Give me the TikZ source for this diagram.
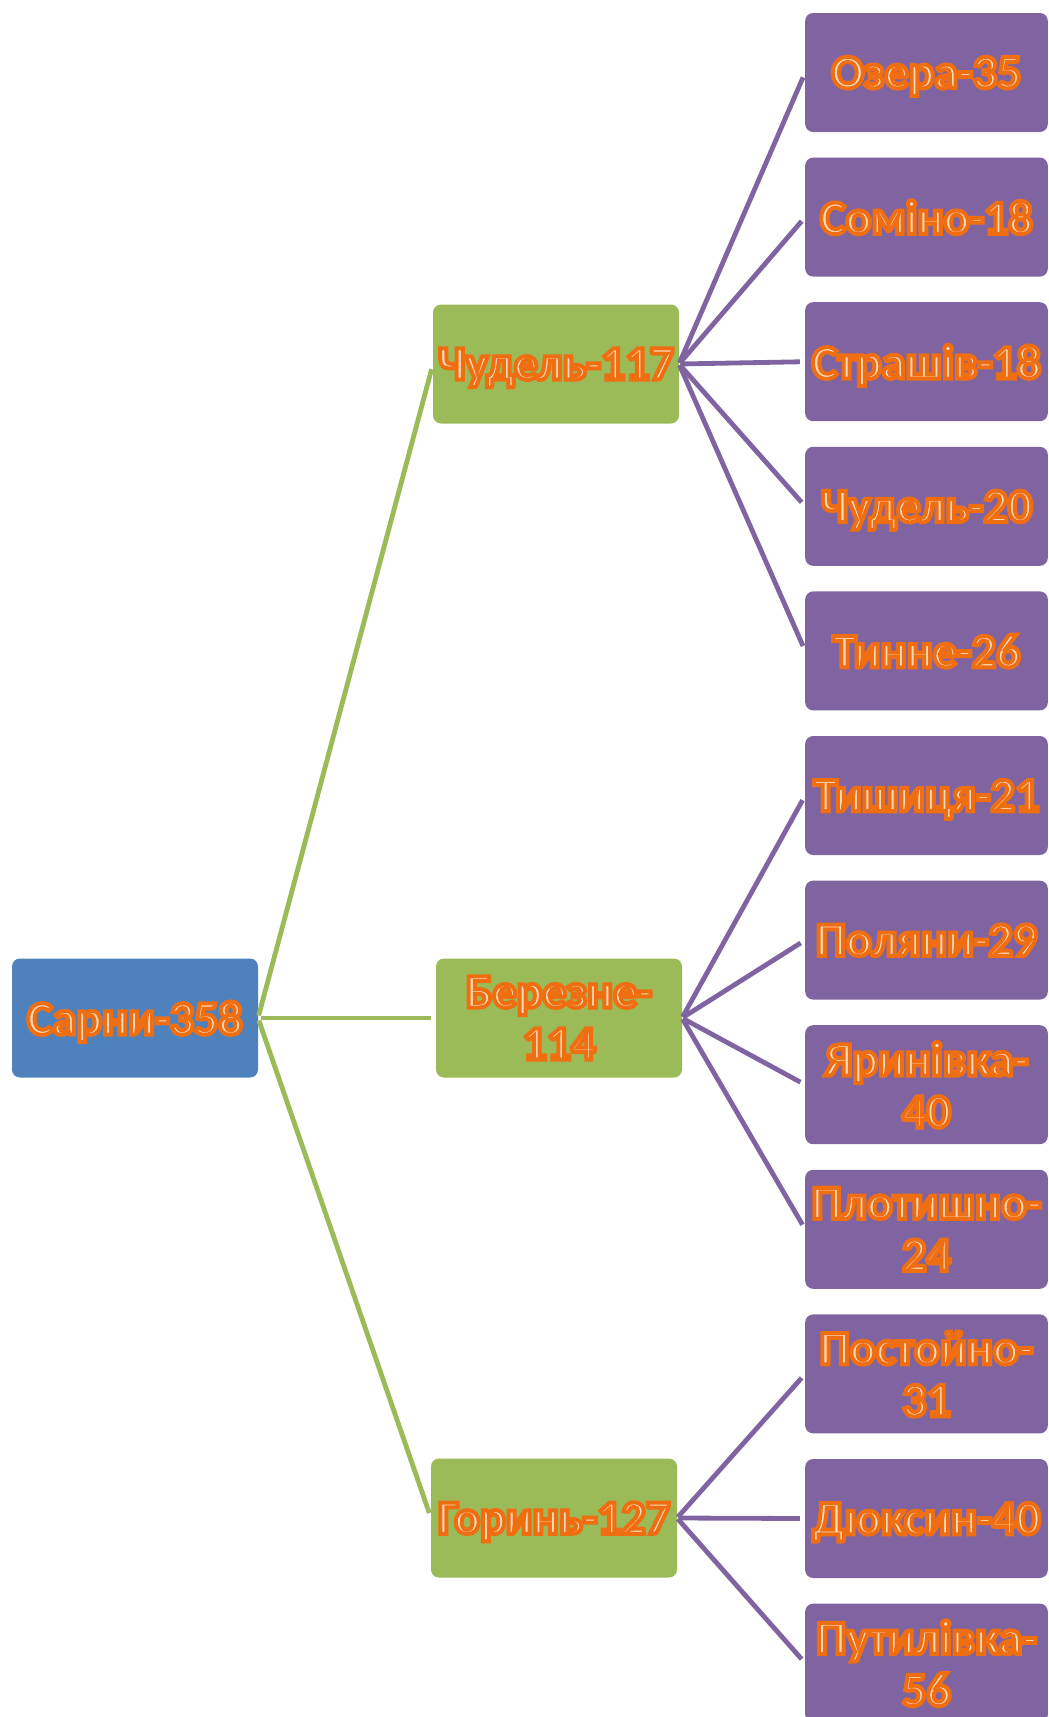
\documentclass[tikz,border=0pt]{standalone}
\usepackage{fontspec}
\setmainfont{Carlito}
\usetikzlibrary{positioning}

\definecolor{rootblue}{HTML}{4F81BD}
\definecolor{midgreen}{HTML}{9BBB59}
\definecolor{leafpurple}{HTML}{8064A2}

% orange outlined letters with a pale fill
\newcommand{\glowtext}[1]{\special{pdf:literal direct 2 Tr 3 w 0.94 0.43 0.07 RG 0.99 0.86 0.74 rg}#1\special{pdf:literal direct 0 Tr}}

\begin{document}
\begin{tikzpicture}[
			x=0.75pt, y=-0.75pt,
			node distance=19.2pt,
			box/.style={rectangle, rounded corners=6pt, minimum width=184.5pt, minimum height=89.25pt, align=center, inner sep=0pt, outer sep=0pt, text depth=0pt, font=\fontsize{36}{39}\selectfont\bfseries},
			rootbox/.style={box, fill=rootblue},
			midbox/.style={box, fill=midgreen},
			leafbox/.style={box, fill=leafpurple, minimum width=182pt},
			link/.style={line width=3.6pt, midgreen, shorten <=2pt, shorten >=4pt},
			leaflink/.style={line width=3.6pt, leafpurple, shorten <=1pt, shorten >=4pt}
			]
			\useasboundingbox (0,0) rectangle (1049,1717);
			
			% Root and middle level
			\node[rootbox] (sarny) at (135,1018) {\glowtext{Сарни-358}};
			\node[midbox] (chudel) at (556,364) {\glowtext{Чудель-117}};
			\node[midbox] (berezne) at (559,1018) {\glowtext{Березне-\\114}};
			\node[midbox] (horyn) at (554,1518) {\glowtext{Горинь-127}};
			
			% Leaves
			\node[leafbox] (ozera) at (926.5,72.5) {\glowtext{Озера-35}};
			\node[leafbox, below=of ozera] (somino) {\glowtext{Соміно-18}};
			\node[leafbox, below=of somino] (strashiv) {\glowtext{Страшів-18}};
			\node[leafbox, below=of strashiv] (chudelv) {\glowtext{Чудель-20}};
			\node[leafbox, below=of chudelv] (tynne) {\glowtext{Тинне-26}};
			\node[leafbox, below=of tynne] (tyshytsia) {\glowtext{Тишиця-21}};
			\node[leafbox, below=of tyshytsia] (poliany) {\glowtext{Поляни-29}};
			\node[leafbox, below=of poliany] (yarynivka) {\glowtext{Яринівка-\\40}};
			\node[leafbox, below=of yarynivka] (plotyshno) {\glowtext{Плотишно-\\24}};
			\node[leafbox, below=of plotyshno] (postoino) {\glowtext{Постойно-\\31}};
			\node[leafbox, below=of postoino] (diuksyn) {\glowtext{Дюксин-40}};
			\node[leafbox, below=of diuksyn] (putylivka) {\glowtext{Путилівка-\\56}};
			
			% Links
			\draw[link] (sarny.east) -- (chudel.west);
			\draw[link] (sarny.east) -- (berezne.west);
			\draw[link] (sarny.east) -- (horyn.west);
			
			\draw[leaflink] (chudel.east) -- (ozera.west);
			\draw[leaflink] (chudel.east) -- (somino.west);
			\draw[leaflink] (chudel.east) -- (strashiv.west);
			\draw[leaflink] (chudel.east) -- (chudelv.west);
			\draw[leaflink] (chudel.east) -- (tynne.west);
			
			\draw[leaflink] (berezne.east) -- (tyshytsia.west);
			\draw[leaflink] (berezne.east) -- (poliany.west);
			\draw[leaflink] (berezne.east) -- (yarynivka.west);
			\draw[leaflink] (berezne.east) -- (plotyshno.west);
			
			\draw[leaflink] (horyn.east) -- (postoino.west);
			\draw[leaflink] (horyn.east) -- (diuksyn.west);
			\draw[leaflink] (horyn.east) -- (putylivka.west);
			
		\end{tikzpicture}
\end{document}
